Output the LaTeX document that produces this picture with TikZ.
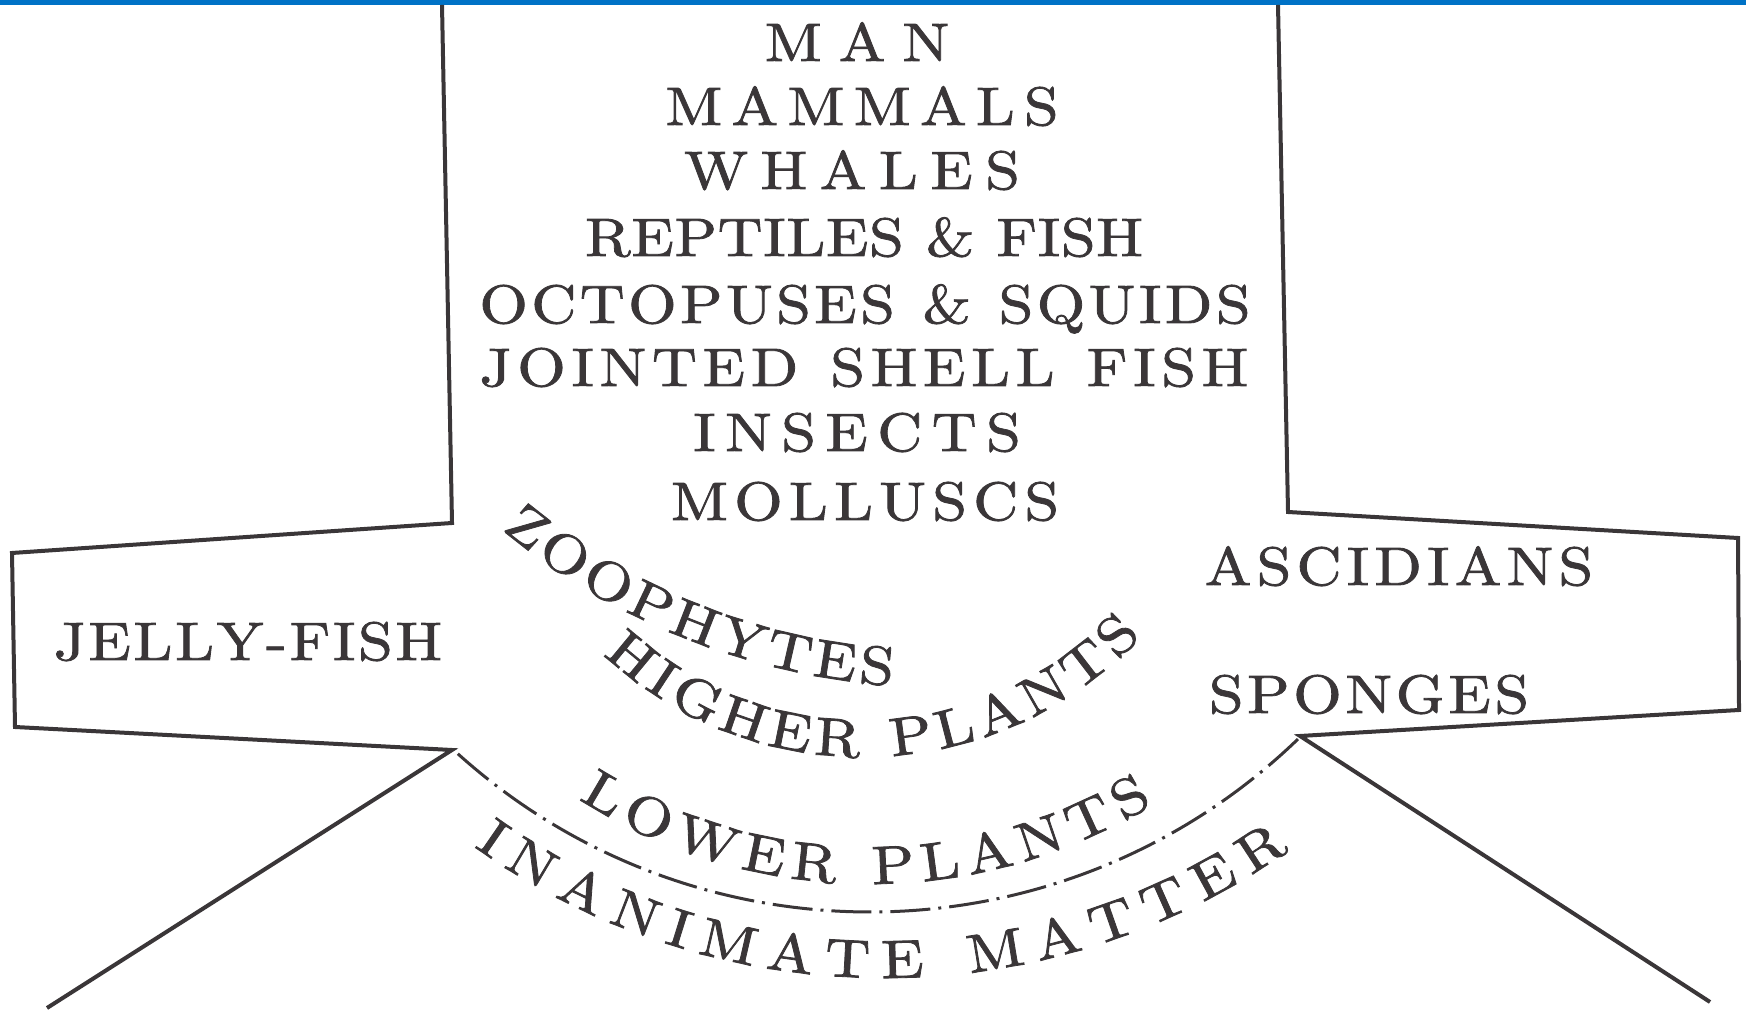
\documentclass[tikz,border=0pt]{standalone}
\usepackage{fontspec}
\usetikzlibrary{decorations.text}

\definecolor{ink}{RGB}{58,54,56}
\definecolor{topbar}{RGB}{0,114,198}

\newfontfamily\handfam{lmroman10-regular.otf}[FakeStretch=1.15, FakeBold=1.5]
\newcommand\handfont{\handfam\fontsize{15.4}{18}\selectfont}
% letter spacing: \spread{gap}{TEXT}, spaces written as ~
\newcommand\spread[2]{\def\gap{#1}\spreadfirst#2\relax}
\def\spreadfirst#1{#1\spreadrest}
\def\spreadrest#1{\ifx#1\relax\else\kern\gap#1\expandafter\spreadrest\fi}

\begin{document}
\begin{tikzpicture}[x=0.1mm, y=0.1mm,
    outline/.style={draw=ink, line width=0.4mm, line join=miter},
    divide/.style={draw=ink, line width=0.3mm, dash pattern=on 4mm off 0.8mm on 0.3mm off 0.8mm},
    row/.style={text=ink, font=\handfont, inner sep=0pt, anchor=base},
    bent/.style={decorate, decoration={text along path, text align=fit to path,
        text={|\handfont\color{ink}|#1}}},
]
\useasboundingbox (0,0) rectangle (1746,1010);
\fill[topbar] (0,1005) rectangle (1746,1010);

% outline of the scale
\draw[outline] (442,1005) -- (452,487) -- (12,457) -- (15,283) -- (452,260) -- (47,2);
\draw[outline] (1278,1005) -- (1288,498) -- (1738,472) -- (1739,300) -- (1300,274) -- (1710,8);

% centres of the curved lines
\coordinate (zc) at (938,1006);
\coordinate (hc) at (863,634);
\coordinate (dc) at (870,714);
\coordinate (lc) at (870,668);
\coordinate (ic) at (884,738);

\path[divide] ([shift={(228:616)}]dc) arc[start angle=228, end angle=314, radius=616];

% column
\node[row] (man) at (857,949) {\spread{1.7mm}{MAN}};
\node[row] (mammals) at (862,885) {\spread{0.92mm}{MAMMALS}};
\node[row] (whales) at (852,821) {\spread{1.25mm}{WHALES}};
\node[row] (reptiles) at (864,754) {\spread{0.07mm}{REPTILES~\&~FISH}};
\node[row] (octopus) at (865,687) {\spread{0.35mm}{OCTOPUSES~\&~SQUIDS}};
\node[row] (jointed) at (864,624) {\spread{0.57mm}{JOINTED~SHELL~FISH}};
\node[row] (insects) at (857,559) {\spread{0.95mm}{INSECTS}};
\node[row] (molluscs) at (865,490) {\spread{0.63mm}{MOLLUSCS}};

% arms
\node[row] (jelly) at (248,350) {\spread{0.27mm}{JELLY-FISH}};
\node[row] (ascid) at (1399,425) {\spread{0.52mm}{ASCIDIANS}};
\node[row] (sponges) at (1369,297) {\spread{0.37mm}{SPONGES}};

% bent lines
\path[bent=ZOOPHYTES] ([shift={(230.3:683)}]zc) arc[start angle=230.3, end angle=266.2, radius=683];
\path[bent=HIGHER PLANTS] ([shift={(227:381)}]hc) arc[start angle=227, end angle=317, radius=381];
\path[bent=LOWER PLANTS] ([shift={(237.5:542)}]lc) arc[start angle=237.5, end angle=301.5, radius=542];
\path[bent=INANIMATE MATTER] ([shift={(234.5:706)}]ic) arc[start angle=234.5, end angle=305, radius=706];

\end{tikzpicture}
\end{document}
